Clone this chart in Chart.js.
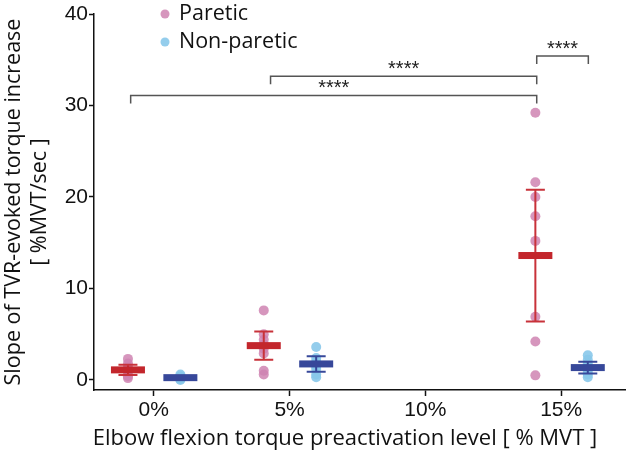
<!DOCTYPE html>
<html>
<head>
<meta charset="utf-8">
<script src="https://cdn.jsdelivr.net/npm/chart.js@4.4.1/dist/chart.umd.min.js"></script>
<style>
  html, body { margin: 0; padding: 0; background: #fff; }
  #wrap { width: 630px; height: 457px; }
</style>
</head>
<body>
<div id="wrap"><canvas id="slopeChart"></canvas></div>
<script>
const levels = [0, 5, 15];
const xTicks = [0, 5, 10, 15];
const yTicks = [0, 10, 20, 30, 40];

// single subjects, one row per preactivation level
const pareticPts = [
  [2.3, 1.8, 1.4, 1.2, 1.0, 0.8, 0.4, 0.2],
  [7.6, 5.0, 4.4, 3.9, 3.4, 2.9, 1.0, 0.6],
  [29.2, 21.6, 20.0, 17.9, 15.2, 6.9, 4.2, 0.5]
];
const nonPareticPts = [
  [0.6, 0.4, 0.3, 0.2, 0.2, 0.1, 0.1, 0.0],
  [3.6, 2.4, 2.0, 1.8, 1.5, 1.2, 0.6, 0.3],
  [2.7, 2.2, 1.8, 1.5, 1.2, 0.9, 0.6, 0.3]
];
const pareticMean = [1.1, 3.75, 13.6];
const pareticSd = [0.55, 1.55, 7.2];
const nonPareticMean = [0.25, 1.75, 1.35];
const nonPareticSd = [0.15, 0.85, 0.65];

// significance comparisons (x from, x to, bracket height)
const sigFrom = [-0.85, 4.3, 14.1];
const sigTo = [14.1, 14.1, 16.0];
const sigY = [31.1, 33.2, 35.4];
const sigLabel = ['****', '****', '****'];

const xTitle = 'Elbow flexion torque preactivation level [ % MVT ]';
const yTitle = ['Slope of TVR-evoked torque increase', '[ %MVT/sec ]'];

const PARETIC_OFF = -0.95;
const NONPARETIC_OFF = 0.98;
const pink = 'rgba(207, 132, 178, 0.85)';
const sky = 'rgba(136, 200, 234, 0.9)';
const red = '#c3262c';
const navy = '#37489a';
const titleFont = "'Open Sans', sans-serif";
const tickFont = "'Liberation Sans', Arial, sans-serif";

function points(rows, off) {
  const out = [];
  rows.forEach((row, i) => row.forEach(v => out.push({ x: levels[i] + off, y: v })));
  return out;
}

const summaryPlugin = {
  id: 'summary',
  afterDatasetsDraw(chart) {
    const ctx = chart.ctx;
    const xs = chart.scales.x, ys = chart.scales.y;
    const groups = [
      { mean: pareticMean, sd: pareticSd, off: PARETIC_OFF, bar: red, err: '#c8323a' },
      { mean: nonPareticMean, sd: nonPareticSd, off: NONPARETIC_OFF, bar: navy, err: navy }
    ];
    ctx.save();
    groups.forEach(g => {
      levels.forEach((lv, i) => {
        const px = xs.getPixelForValue(lv + g.off);
        const top = ys.getPixelForValue(g.mean[i] + g.sd[i]);
        const bot = ys.getPixelForValue(g.mean[i] - g.sd[i]);
        const my = ys.getPixelForValue(g.mean[i]);
        ctx.strokeStyle = g.err;
        ctx.lineWidth = 2;
        ctx.beginPath();
        ctx.moveTo(px, top); ctx.lineTo(px, bot);
        ctx.moveTo(px - 9.5, top); ctx.lineTo(px + 9.5, top);
        ctx.moveTo(px - 9.5, bot); ctx.lineTo(px + 9.5, bot);
        ctx.stroke();
        ctx.fillStyle = g.bar;
        ctx.fillRect(px - 17, my - 3.5, 34, 7);
      });
    });

    // significance brackets
    ctx.strokeStyle = '#555';
    ctx.lineWidth = 1.5;
    ctx.fillStyle = '#222';
    ctx.font = "20px " + tickFont;
    ctx.textAlign = 'center';
    ctx.textBaseline = 'alphabetic';
    sigY.forEach((h, i) => {
      const x1 = xs.getPixelForValue(sigFrom[i]);
      const x2 = xs.getPixelForValue(sigTo[i]);
      const y = ys.getPixelForValue(h);
      ctx.beginPath();
      ctx.moveTo(x1, y + 8); ctx.lineTo(x1, y); ctx.lineTo(x2, y); ctx.lineTo(x2, y + 8);
      ctx.stroke();
      ctx.fillText(sigLabel[i], (x1 + x2) / 2, y - 1);
    });

    // legend
    const ds = chart.data.datasets;
    ctx.font = "21.5px " + titleFont;
    ctx.textAlign = 'left';
    ctx.textBaseline = 'middle';
    ds.forEach((d, i) => {
      const ly = 14 + i * 28;
      ctx.fillStyle = d.backgroundColor;
      ctx.beginPath();
      ctx.arc(165, ly, 4.5, 0, Math.PI * 2);
      ctx.fill();
      ctx.fillStyle = '#111';
      ctx.fillText(d.label, 179, ly);
    });

    // x axis title, set a bit left of the plot centre as in the figure
    ctx.font = "22px " + titleFont;
    ctx.textAlign = 'center';
    ctx.fillText(xTitle, 345, 439);
    ctx.restore();
  }
};

new Chart(document.getElementById('slopeChart'), {
  type: 'scatter',
  data: {
    datasets: [
      { label: 'Paretic', data: points(pareticPts, PARETIC_OFF), backgroundColor: pink, borderWidth: 0, pointRadius: 5 },
      { label: 'Non-paretic', data: points(nonPareticPts, NONPARETIC_OFF), backgroundColor: sky, borderWidth: 0, pointRadius: 5 }
    ]
  },
  plugins: [summaryPlugin],
  options: {
    responsive: true,
    maintainAspectRatio: false,
    animation: false,
    layout: { padding: { top: 14, right: 2, left: 0, bottom: 0 } },
    plugins: { legend: { display: false }, tooltip: { enabled: false } },
    scales: {
      x: {
        type: 'linear',
        min: -2.2,
        max: 17.35,
        afterBuildTicks: s => { s.ticks = xTicks.map(v => ({ value: v })); },
        afterFit: s => { s.height = 67; },
        grid: { display: true, drawOnChartArea: false, tickLength: 6, tickColor: '#111', tickWidth: 1.5 },
        border: { color: '#111', width: 1.5 },
        ticks: { color: '#111', padding: 2, font: { family: tickFont, size: 21 }, callback: v => v + '%' }
      },
      y: {
        min: -1.1,
        max: 40,
        afterBuildTicks: s => { s.ticks = yTicks.map(v => ({ value: v })); },
        afterFit: s => { s.width = 94; },
        grid: { display: true, drawOnChartArea: false, tickLength: 5, tickColor: '#111', tickWidth: 1.5 },
        border: { color: '#111', width: 1.5 },
        ticks: { color: '#111', padding: 1, font: { family: tickFont, size: 21 } },
        title: { display: true, text: yTitle, color: '#111',
          font: { family: titleFont, size: 21.5, lineHeight: 1.25 }, padding: 0 }
      }
    }
  }
});
</script>
</body>
</html>
